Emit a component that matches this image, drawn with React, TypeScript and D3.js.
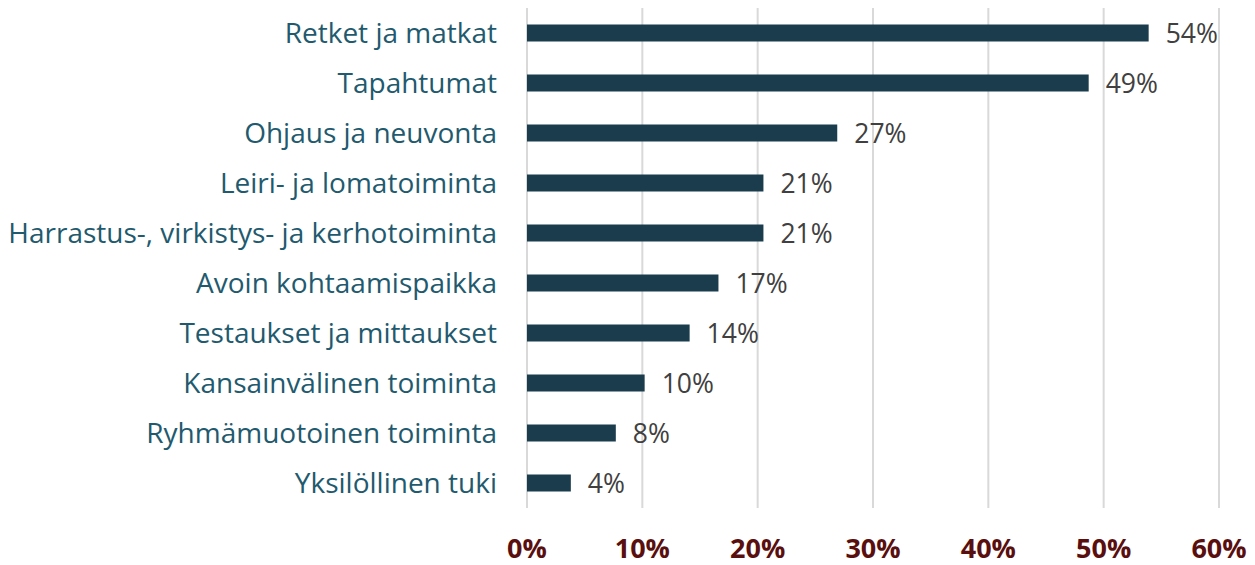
import React from "react"
import * as d3 from "d3"

const categories = [
  "Retket ja matkat",
  "Tapahtumat",
  "Ohjaus ja neuvonta",
  "Leiri- ja lomatoiminta",
  "Harrastus-, virkistys- ja kerhotoiminta",
  "Avoin kohtaamispaikka",
  "Testaukset ja mittaukset",
  "Kansainvälinen toiminta",
  "Ryhmämuotoinen toiminta",
  "Yksilöllinen tuki",
]
const values = [53.9, 48.7, 26.9, 20.5, 20.5, 16.6, 14.1, 10.2, 7.7, 3.8]
const valueLabels = ["54%", "49%", "27%", "21%", "21%", "17%", "14%", "10%", "8%", "4%"]
const ticks = [0, 10, 20, 30, 40, 50, 60]

const W = 1255
const H = 565
const font = "'Open Sans', sans-serif"
const tickFont = "'Liberation Sans Narrow', 'Open Sans', sans-serif"

export default function App() {
  const x = d3.scaleLinear().domain([0, 60]).range([527, 1219])
  const y = d3.scaleBand().domain(categories).range([8, 508]).paddingInner(0.66).paddingOuter(0.33)

  return (
    <svg width={W} height={H} style={{ position: "absolute", left: 0, top: 0, background: "#fff" }}>
      {ticks.map(t => (
        <line key={"g" + t} x1={x(t)} x2={x(t)} y1={8} y2={508} stroke="#d9d9d9" strokeWidth={2} />
      ))}
      {categories.map((c, i) => (
        <g key={c}>
          <rect x={x(0)} y={y(c)} width={x(values[i]) - x(0)} height={y.bandwidth()} fill="#1a3c4c" />
          <text x={497} y={y(c)! + y.bandwidth() / 2} dy="0.36em" textAnchor="end"
            fontFamily={font} fontSize={28} fill="#1f5a6e">{c}</text>
          <text x={x(values[i]) + 17} y={y(c)! + y.bandwidth() / 2} dy="0.37em"
            fontFamily={font} fontSize={26.5} fill="#404040">{valueLabels[i]}</text>
        </g>
      ))}
      {ticks.map(t => (
        <text key={"t" + t} x={x(t)} y={558} textAnchor="middle" fontFamily={tickFont}
          fontWeight="bold" fontSize={27} fill="#5a0f0f">{t + "%"}</text>
      ))}
    </svg>
  )
}
